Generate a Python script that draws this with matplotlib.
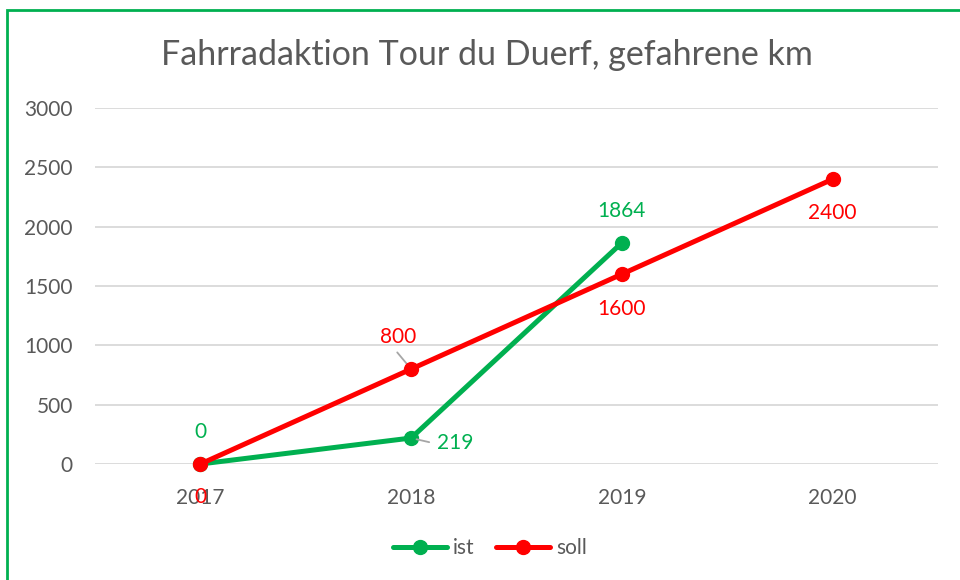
import matplotlib.pyplot as plt
from matplotlib.patches import Rectangle

plt.rcParams['font.family'] = ['Lato', 'DejaVu Sans']

years = ['2017', '2018', '2019', '2020']
ist = [0, 219, 1864]
soll = [0, 800, 1600, 2400]

GREEN = '#00B050'
RED = '#FF0000'
GREY = '#595959'
LEADER = '#A6A6A6'

fig = plt.figure(figsize=(9.6, 5.8), dpi=100)
ax = fig.add_axes([95/960, 1 - 464/580, 843/960, 356/580])

x_ist = list(range(len(ist)))
x_soll = list(range(len(soll)))
ax.plot(x_ist, ist, color=GREEN, lw=3.6, marker='o', ms=10, label='ist',
        clip_on=False, zorder=3, solid_capstyle='round')
ax.plot(x_soll, soll, color=RED, lw=3.6, marker='o', ms=10, label='soll',
        clip_on=False, zorder=4, solid_capstyle='round')

ax.set_xlim(-0.5, 3.5)
ax.set_ylim(0, 3000)
ax.set_yticks(range(0, 3001, 500))
ax.set_xticks(range(len(years)))
ax.set_xticklabels(years)
ax.grid(axis='y', color='#D9D9D9', lw=1.3)
ax.set_axisbelow(True)
for s in ax.spines.values():
    s.set_visible(False)
ax.tick_params(length=0, labelsize=15, labelcolor=GREY)
ax.tick_params(axis='y', pad=16)
ax.tick_params(axis='x', pad=17)

# data labels (offsets in points)
ist_off = [(0, 23), (32, -3.5), (0, 23)]
soll_off = [(0, -24), (-9.5, 23), (0, -25), (0, -24)]
for i, v in enumerate(ist):
    dx, dy = ist_off[i]
    ax.annotate(str(v), (i, v), xytext=(dx, dy), textcoords='offset points',
                ha='center', va='center', color=GREEN, fontsize=15,
                annotation_clip=False, zorder=5)
for i, v in enumerate(soll):
    dx, dy = soll_off[i]
    ax.annotate(str(v), (i, v), xytext=(dx, dy), textcoords='offset points',
                ha='center', va='center', color=RED, fontsize=15,
                annotation_clip=False, zorder=5)

# leader lines for the shifted labels
ax.annotate('', (1, soll[1]), xytext=(-10, 12), textcoords='offset points',
            arrowprops=dict(arrowstyle='-', color=LEADER, lw=1.3,
                            shrinkA=0, shrinkB=1), annotation_clip=False, zorder=3.5)
ax.annotate('', (1, ist[1]), xytext=(13, -3), textcoords='offset points',
            arrowprops=dict(arrowstyle='-', color=LEADER, lw=1.3,
                            shrinkA=0, shrinkB=4), annotation_clip=False, zorder=3.5)

fig.text(487/960, 1 - 55/580, 'Fahrradaktion Tour du Duerf, gefahrene km',
         ha='center', va='center', fontsize=24.5, color=GREY)

leg = fig.legend(loc='center', bbox_to_anchor=(490/960, 1 - 548/580), ncol=2,
                 frameon=False, fontsize=15, handlelength=2.6, columnspacing=1.0,
                 handletextpad=0.3)
for t in leg.get_texts():
    t.set_color(GREY)

fig.patches.append(Rectangle((7/960, -0.1), 1.1, 1.1 - 10/580, transform=fig.transFigure,
                             fill=False, edgecolor=GREEN, lw=2, clip_on=False))

fig.savefig('out.png', dpi=100)
